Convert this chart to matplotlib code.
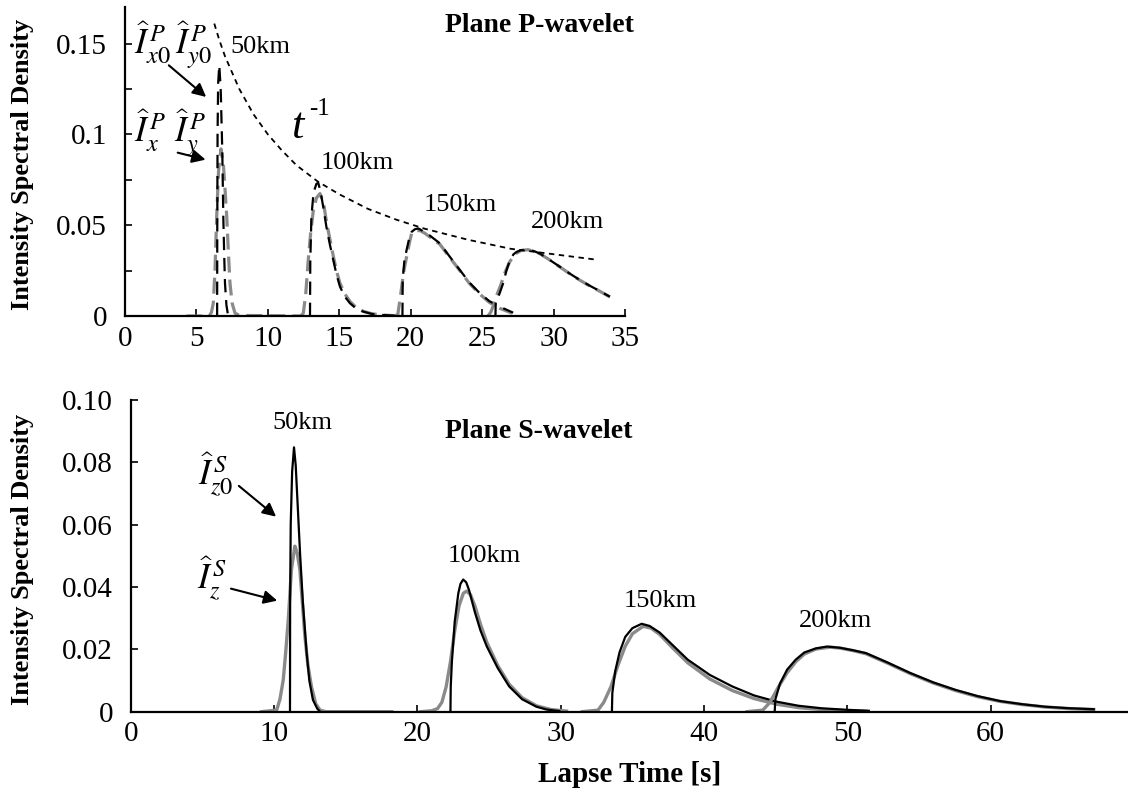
import numpy as np
import matplotlib
matplotlib.use("Agg")
import matplotlib.pyplot as plt
from matplotlib.ticker import MultipleLocator, FixedLocator

plt.rcParams['font.family'] = ['Liberation Serif', 'DejaVu Serif']
plt.rcParams['mathtext.fontset'] = 'stix'

# ---- Plane P-wavelet (top), (t [s], intensity)
# black dashed = I_x0, I_y0 ; gray dashed = I_x, I_y
pb50 = [(6.45, 0), (6.46, 0.05), (6.48, 0.10), (6.52, 0.128), (6.6, 0.138), (6.7, 0.125),
        (6.81, 0.091), (6.88, 0.055), (6.95, 0.032), (7.0, 0.018), (7.1, 0.006), (7.2, 0.001), (7.3, 0)]
pg50 = [(4.3, 0), (5.9, 0), (6.05, 0.002), (6.18, 0.007), (6.3, 0.025), (6.42, 0.055), (6.55, 0.08),
        (6.72, 0.092), (6.9, 0.082), (7.0, 0.07), (7.12, 0.055), (7.25, 0.033), (7.35, 0.018),
        (7.5, 0.007), (7.7, 0.0016), (8.0, 0.0003), (12.5, 0)]
pb100 = [(12.95, 0), (12.97, 0.03), (13.05, 0.055), (13.2, 0.068), (13.4, 0.0728), (13.53, 0.0733),
         (13.7, 0.068), (13.9, 0.059), (14.1, 0.049), (14.35, 0.039), (14.58, 0.0308), (14.8, 0.023),
         (15.05, 0.0161), (15.4, 0.0105), (15.75, 0.007), (16.2, 0.004), (16.68, 0.0024),
         (17.3, 0.0011), (18.1, 0.0005), (19.4, 0)]
pg100 = [(12.3, 0), (12.48, 0.0015), (12.65, 0.012), (12.83, 0.031), (13.0, 0.046), (13.18, 0.058),
         (13.4, 0.065), (13.65, 0.0674), (13.9, 0.062), (14.1, 0.052), (14.35, 0.042), (14.58, 0.033),
         (14.8, 0.025), (15.05, 0.018), (15.4, 0.012), (15.75, 0.008), (16.2, 0.0045), (16.7, 0.0025),
         (17.3, 0.0012), (18.1, 0.0005), (19.2, 0)]
pb150 = [(19.42, 0), (19.44, 0.02), (19.55, 0.03), (19.71, 0.0363), (19.9, 0.043), (20.06, 0.0463),
         (20.3, 0.0478), (20.53, 0.0482), (20.8, 0.047), (21.3, 0.0445), (22.04, 0.040), (22.7, 0.033),
         (23.44, 0.0253), (24.1, 0.0185), (24.84, 0.0125), (25.5, 0.0082), (26.24, 0.0051), (27.17, 0.0018)]
pg150 = [(18.9, 0), (19.1, 0.001), (19.3, 0.012), (19.5, 0.024), (19.71, 0.0326), (19.9, 0.040),
         (20.06, 0.0454), (20.3, 0.047), (20.65, 0.047), (21.0, 0.0455), (21.5, 0.0425), (22.04, 0.0395),
         (22.7, 0.0325), (23.44, 0.025), (24.1, 0.018), (24.84, 0.012), (25.5, 0.0075), (26.24, 0.0042),
         (27.1, 0.0015)]
pb200 = [(25.93, 0), (25.95, 0.008), (26.2, 0.012), (26.47, 0.018), (26.7, 0.025), (26.94, 0.0308),
         (27.2, 0.034), (27.41, 0.0353), (27.7, 0.0362), (28.11, 0.0366), (28.6, 0.0358), (29.04, 0.0344),
         (29.7, 0.031), (30.44, 0.0271), (31.1, 0.0235), (31.84, 0.0198), (32.5, 0.0168), (33.24, 0.0137),
         (33.94, 0.0106)]
pg200 = [(25.4, 0), (25.6, 0.002), (25.8, 0.006), (26.0, 0.011), (26.3, 0.017), (26.6, 0.024),
         (26.94, 0.030), (27.3, 0.034), (27.7, 0.036), (28.2, 0.0365), (28.6, 0.0357), (29.04, 0.0343),
         (29.7, 0.031), (30.44, 0.027), (31.1, 0.0234), (31.84, 0.0197), (32.5, 0.0167), (33.24, 0.0136),
         (33.94, 0.0105)]
# t^-1 envelope
tinv = [(6.25, 0.161), (6.6, 0.152), (7.0, 0.143), (7.5, 0.134), (8.0, 0.125), (8.5, 0.118),
        (9.0, 0.111), (10.0, 0.100), (11.0, 0.091), (12.0, 0.083), (13.5, 0.074), (15.0, 0.067),
        (17.0, 0.059), (19.0, 0.053), (21.0, 0.048), (24.0, 0.042), (27.0, 0.037), (30.0, 0.034),
        (33.0, 0.031)]

# ---- Plane S-wavelet (bottom): black = I_z0, gray = I_z
sb50 = [(11.1, 0), (11.11, 0.035), (11.15, 0.06), (11.25, 0.077), (11.38, 0.0848), (11.5, 0.079),
        (11.65, 0.065), (11.8, 0.051), (12.0, 0.035), (12.26, 0.019), (12.45, 0.010), (12.7, 0.0038),
        (13.0, 0.001), (13.2, 0)]
sg50 = [(9.1, 0), (10.17, 0.0005), (10.4, 0.004), (10.63, 0.0102), (10.8, 0.019), (10.98, 0.0295),
        (11.2, 0.0456), (11.44, 0.0531), (11.6, 0.051), (11.79, 0.0456), (11.95, 0.036), (12.14, 0.0242),
        (12.35, 0.015), (12.6, 0.008), (12.9, 0.0025), (13.2, 0.0005), (13.6, 0), (18.2, 0)]
sb100 = [(22.3, 0), (22.32, 0.008), (22.4, 0.016), (22.6, 0.029), (22.85, 0.038), (23.0, 0.041),
         (23.19, 0.0424), (23.4, 0.0415), (23.6, 0.039), (24.0, 0.032), (24.4, 0.026), (24.84, 0.0209),
         (25.6, 0.014), (26.4, 0.0081), (27.3, 0.004), (28.3, 0.0016), (29.0, 0.0007), (29.9, 0.0002)]
sg100 = [(20.2, 0), (21.0, 0.0003), (21.4, 0.001), (21.7, 0.003), (22.0, 0.008), (22.3, 0.016),
         (22.6, 0.026), (22.9, 0.034), (23.2, 0.038), (23.44, 0.0387), (23.7, 0.0375), (24.0, 0.034),
         (24.4, 0.028), (24.84, 0.0222), (25.6, 0.0148), (26.4, 0.0088), (27.3, 0.0045), (28.3, 0.0019),
         (29.3, 0.0007), (30.4, 0.0002)]
sb150 = [(33.57, 0), (33.6, 0.006), (33.8, 0.013), (34.1, 0.019), (34.5, 0.024), (35.0, 0.0268),
         (35.65, 0.0282), (36.2, 0.0275), (36.9, 0.0254), (37.8, 0.0214), (38.86, 0.0167), (40.4, 0.0118),
         (41.97, 0.0081), (43.5, 0.0052), (45.08, 0.0032), (46.6, 0.0019), (48.2, 0.0011), (50.0, 0.0006),
         (51.5, 0.0003)]
sg150 = [(31.5, 0), (32.6, 0.0005), (33.0, 0.003), (33.5, 0.008), (34.0, 0.015), (34.5, 0.021),
         (35.0, 0.025), (35.75, 0.0274), (36.3, 0.0268), (36.9, 0.0248), (37.8, 0.0205), (38.86, 0.0157),
         (40.4, 0.0105), (41.97, 0.0068), (43.5, 0.0042), (45.08, 0.0024), (46.6, 0.0013), (48.2, 0.0007),
         (50.0, 0.0003), (51.3, 0.0001)]
sb200 = [(44.93, 0), (44.98, 0.004), (45.3, 0.009), (45.8, 0.0135), (46.4, 0.0167), (47.0, 0.019),
         (47.8, 0.0203), (48.58, 0.0209), (49.5, 0.0205), (50.4, 0.0197), (51.3, 0.0188), (52.8, 0.0158),
         (54.4, 0.0124), (56.0, 0.0094), (57.55, 0.007), (59.1, 0.005), (60.67, 0.0034), (62.2, 0.0024),
         (63.8, 0.0016), (65.5, 0.0011), (67.2, 0.0008)]
sg200 = [(43.0, 0), (44.1, 0.0005), (44.6, 0.003), (45.2, 0.008), (45.8, 0.0125), (46.4, 0.016),
         (47.0, 0.0185), (47.8, 0.0201), (48.8, 0.0207), (49.5, 0.0204), (50.4, 0.0196), (51.3, 0.0186),
         (52.8, 0.0156), (54.4, 0.0122), (56.0, 0.0092), (57.55, 0.0068), (59.1, 0.0048), (60.67, 0.0033),
         (62.2, 0.0023), (63.8, 0.0015), (65.5, 0.001), (67.2, 0.0007)]

dist_labels = ["50km", "100km", "150km", "200km"]
p_label_pos = [(7.4, 0.148), (13.7, 0.084), (20.9, 0.061), (28.4, 0.0516)]
s_label_pos = [(9.9, 0.0927), (22.1, 0.0501), (34.4, 0.0354), (46.6, 0.029)]
p_xticks = [0, 5, 10, 15, 20, 25, 30, 35]
p_yticks = [0, 0.05, 0.1, 0.15]
p_yticklabels = ["0", "0.05", "0.1", "0.15"]
s_xticks = [0, 10, 20, 30, 40, 50, 60]
s_yticks = [0, 0.02, 0.04, 0.06, 0.08, 0.10]
s_yticklabels = ["0", "0.02", "0.04", "0.06", "0.08", "0.10"]

GRAY = "#8a8a8a"
fig = plt.figure(figsize=(11.28, 8.02), dpi=100)
ax1 = fig.add_axes([0.1108, 0.606, 0.4433, 0.385])
ax2 = fig.add_axes([0.1161, 0.1126, 0.884, 0.3887])


def xy(pts):
    a = np.array(pts)
    return a[:, 0], a[:, 1]


def style(ax):
    for s in ["top", "right"]:
        ax.spines[s].set_visible(False)
    for s in ["left", "bottom"]:
        ax.spines[s].set_linewidth(1.6)
    ax.tick_params(which="both", direction="in", width=1.2, length=5, labelsize=21)
    ax.tick_params(axis="y", which="both", pad=13)
    ax.tick_params(axis="x", which="both", pad=7)


arrow = dict(arrowstyle="-|>", color="black", lw=1.5, mutation_scale=20)

# top panel
for g, b in [(pg50, pb50), (pg100, pb100), (pg150, pb150), (pg200, pb200)]:
    ax1.plot(*xy(g), color=GRAY, lw=2.3, dashes=(5, 2.2), dash_capstyle="butt")
    ax1.plot(*xy(b), color="black", lw=1.6, dashes=(6, 3.5), dash_capstyle="butt")
ax1.plot(*xy(tinv), color="black", lw=1.3, dashes=(3, 2.5))
ax1.set_xlim(0, 35)
ax1.set_ylim(0, 0.17)
ax1.xaxis.set_major_locator(FixedLocator(p_xticks))
ax1.yaxis.set_major_locator(FixedLocator(p_yticks))
ax1.yaxis.set_minor_locator(MultipleLocator(0.025))
ax1.set_yticklabels(p_yticklabels)
style(ax1)
for lab, (tx, ty) in zip(dist_labels, p_label_pos):
    ax1.text(tx, ty, lab, fontsize=19, ha="left", va="center")
ax1.text(22.4, 0.160, "Plane P-wavelet", fontsize=20, fontweight="bold", va="center",
         clip_on=False)
ax1.text(11.6, 0.104, "t", fontsize=32, style="italic", va="center")
ax1.text(12.9, 0.114, "-1", fontsize=18, va="center")
ax1.text(0.6, 0.149, r"$\widehat{I}^{\,P}_{x0}\,\widehat{I}^{\,P}_{y0}$", fontsize=25, va="center")
ax1.text(0.6, 0.1005, r"$\widehat{I}^{\,P}_{x}\,\,\widehat{I}^{\,P}_{y}$", fontsize=25, va="center")
ax1.annotate("", xy=(5.83, 0.1196), xytext=(2.92, 0.139), arrowprops=arrow)
ax1.annotate("", xy=(5.83, 0.0857), xytext=(3.5, 0.0903), arrowprops=arrow)
ax1.set_ylabel("Intensity Spectral Density", fontsize=19, fontweight="bold")
ax1.yaxis.set_label_coords(-0.182, 0.49)

# bottom panel
for g, b in [(sg50, sb50), (sg100, sb100), (sg150, sb150), (sg200, sb200)]:
    ax2.plot(*xy(g), color=GRAY, lw=2.4)
    ax2.plot(*xy(b), color="black", lw=1.6)
ax2.set_xlim(0, 69.6)
ax2.set_ylim(0, 0.10)
ax2.xaxis.set_major_locator(FixedLocator(s_xticks))
ax2.yaxis.set_major_locator(FixedLocator(s_yticks))
ax2.set_yticklabels(s_yticklabels)
style(ax2)
for lab, (tx, ty) in zip(dist_labels, s_label_pos):
    ax2.text(tx, ty, lab, fontsize=19, ha="left", va="center")
ax2.text(21.9, 0.090, "Plane S-wavelet", fontsize=20, fontweight="bold", va="center")
ax2.text(4.7, 0.0762, r"$\widehat{I}^{\,S}_{z0}$", fontsize=25, va="center")
ax2.text(4.6, 0.043, r"$\widehat{I}^{\,S}_{z}$", fontsize=25, va="center")
ax2.annotate("", xy=(10.28, 0.062), xytext=(7.38, 0.073), arrowprops=arrow)
ax2.annotate("", xy=(10.4, 0.0354), xytext=(6.79, 0.0397), arrowprops=arrow)
ax2.set_ylabel("Intensity Spectral Density", fontsize=19, fontweight="bold")
ax2.yaxis.set_label_coords(-0.097, 0.49)
fig.text(0.558, 0.034, "Lapse Time [s]", fontsize=21, fontweight="bold", ha="center", va="center")

fig.savefig("out.png", dpi=100)
